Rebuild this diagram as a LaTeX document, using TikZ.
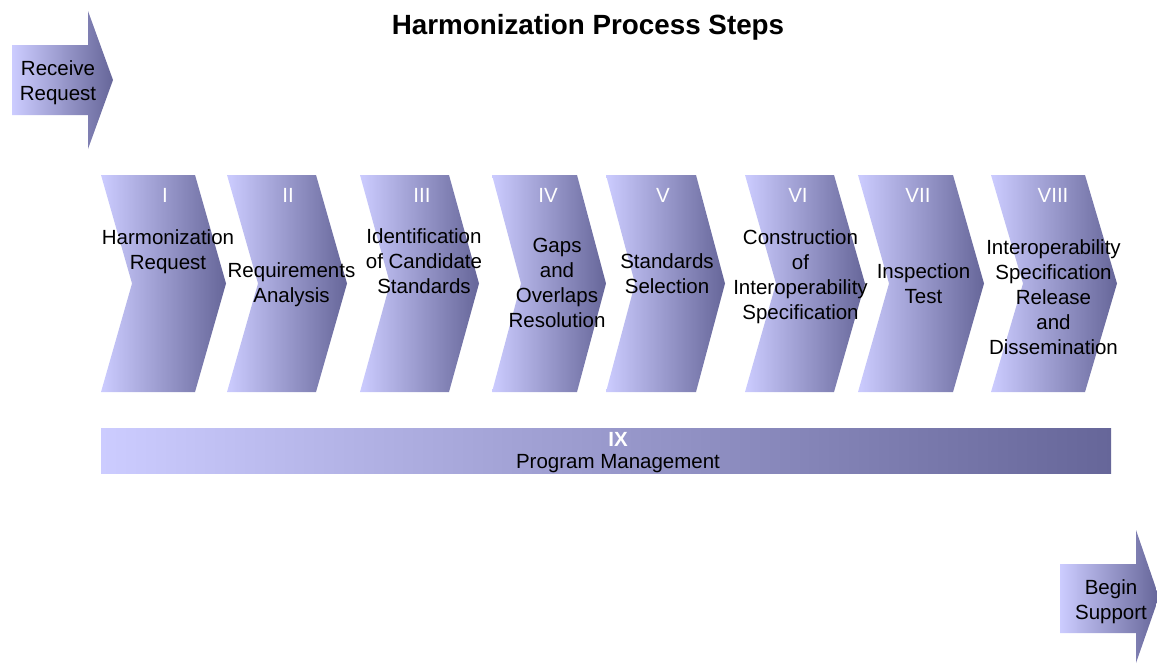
\documentclass[tikz,border=0pt]{standalone}
\usepackage{fontspec}
\setmainfont{Liberation Sans}
\definecolor{cLight}{RGB}{204,204,255}
\definecolor{cMid}{RGB}{160,160,210}
\definecolor{cDark}{RGB}{102,102,153}
\tikzset{
  grad/.style={left color=cLight, right color=cDark, draw=none},
  lbl/.style={align=center, font=\fontsize{20.5}{25}\selectfont, inner sep=0pt, text=black},
  num/.style={font=\fontsize{20.5}{25}\selectfont, inner sep=0pt, text=white},
}
\newcommand{\chevpath}[3]{%
  \path[grad] (#1,175) -- (#2,175) -- (#3,283.5) -- (#2,392) -- (#1,392) -- ({#1+#3-#2},283.5) -- cycle;
}
\begin{document}
\begin{tikzpicture}[x=1pt,y=-1pt]
\useasboundingbox (0,0) rectangle (1157,664);
% title
\node[font=\fontsize{27.8}{30}\bfseries\selectfont, inner sep=0pt] (title) at (588,27) {Harmonization Process Steps};
% receive request
\path[grad] (12,45) -- (88,45) -- (88,11) -- (113,80) -- (88,149) -- (88,115) -- (12,115) -- cycle;
\node[lbl] (recv) at (58,83) {Receive\\Request};
% chevrons
\chevpath{101}{195}{226}
\chevpath{227}{316}{347}
\chevpath{360}{449}{479}
\chevpath{492}{577}{606}
\chevpath{606}{696}{725}
\chevpath{745}{834}{865}
\chevpath{858}{953}{984}
\chevpath{991}{1085}{1117}
% numerals
\node[num] (n1) at (165,195) {I};
\node[num] (n2) at (288,195) {II};
\node[num] (n3) at (422,195) {III};
\node[num] (n4) at (548,195) {IV};
\node[num] (n5) at (663,195) {V};
\node[num] (n6) at (798,195) {VI};
\node[num] (n7) at (918,195) {VII};
\node[num] (n8) at (1053,195) {VIII};
% texts
\node[lbl] (t1) at (168,252) {Harmonization\\Request};
\node[lbl] (t2) at (291.5,284.5) {Requirements\\Analysis};
\node[lbl] (t3) at (424,261.5) {Identification\\of Candidate\\Standards};
\node[lbl] (t4) at (557,283) {Gaps\\and\\Overlaps\\Resolution};
\node[lbl] (t5) at (667,274) {Standards\\Selection};
\node[lbl] (t6) at (800.5,277) {Construction\\of\\Interoperability\\Specification};
\node[lbl] (t7) at (923.5,284) {Inspection\\Test};
\node[lbl] (t8) at (1053.5,297.5) {Interoperability\\Specification\\Release\\and\\Dissemination};
% program management bar
\path[left color=cLight, middle color=cMid, right color=cDark, draw=none] (101,428) rectangle (1111,473);
\node[num, font=\fontsize{20.5}{25}\bfseries\selectfont] (n9) at (618,439) {IX};
\node[lbl] (t9) at (618,463.5) {Program Management};
% begin support
\path[grad] (1060,564) -- (1136,564) -- (1136,530) -- (1159,597) -- (1136,663) -- (1136,633) -- (1060,633) -- cycle;
\node[lbl] (supp) at (1111,602) {Begin\\Support};
\end{tikzpicture}
\end{document}
